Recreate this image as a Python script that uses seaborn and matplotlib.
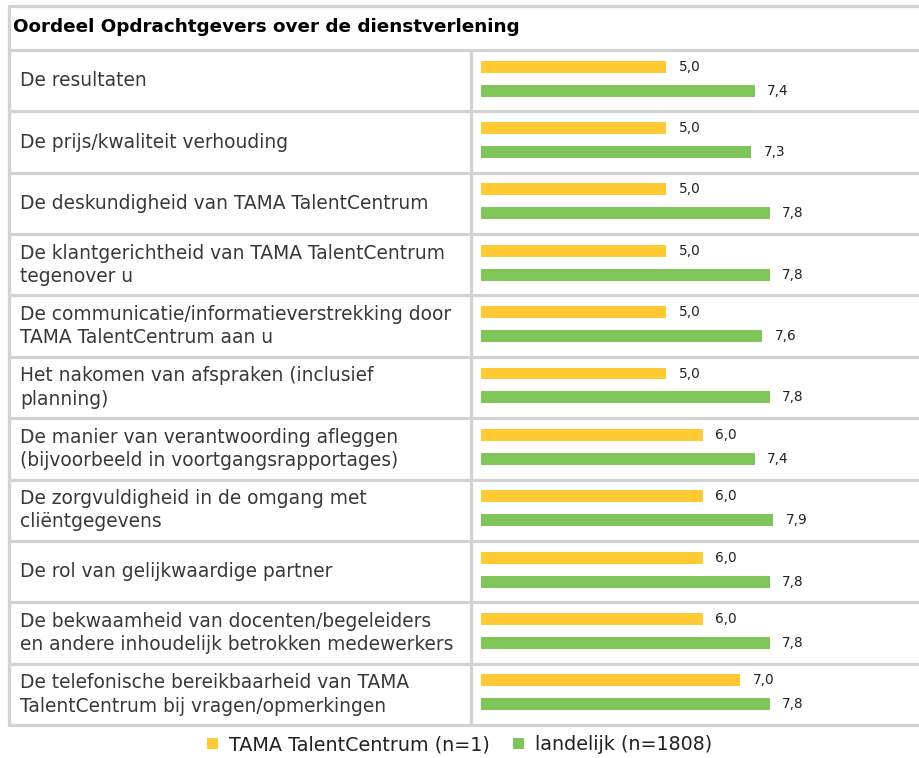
import numpy as np
import pandas as pd
import seaborn as sns
import matplotlib.pyplot as plt

items = [
    "De resultaten",
    "De prijs/kwaliteit verhouding",
    "De deskundigheid van TAMA TalentCentrum",
    "De klantgerichtheid van TAMA TalentCentrum\ntegenover u",
    "De communicatie/informatieverstrekking door\nTAMA TalentCentrum aan u",
    "Het nakomen van afspraken (inclusief\nplanning)",
    "De manier van verantwoording afleggen\n(bijvoorbeeld in voortgangsrapportages)",
    "De zorgvuldigheid in de omgang met\ncliëntgegevens",
    "De rol van gelijkwaardige partner",
    "De bekwaamheid van docenten/begeleiders\nen andere inhoudelijk betrokken medewerkers",
    "De telefonische bereikbaarheid van TAMA\nTalentCentrum bij vragen/opmerkingen",
]
tama = [5.0, 5.0, 5.0, 5.0, 5.0, 5.0, 6.0, 6.0, 6.0, 6.0, 7.0]
landelijk = [7.4, 7.3, 7.8, 7.8, 7.6, 7.8, 7.4, 7.9, 7.8, 7.8, 7.8]
series = ["TAMA TalentCentrum (n=1)", "landelijk (n=1808)"]
title = "Oordeel Opdrachtgevers over de dienstverlening"
colors = ["#FFC933", "#80C55A"]

df = pd.DataFrame({"item": items * 2,
                   "score": tama + landelijk,
                   "groep": [series[0]] * len(items) + [series[1]] * len(items)})

sns.set_theme(style="white")
plt.rcParams["font.family"] = ["DejaVu Sans"]

W, H = 920, 758
fig = plt.figure(figsize=(W / 100, H / 100), dpi=100)

# table frame in pixel coordinates
tab = fig.add_axes([0, 0, 1, 1], zorder=0)
tab.set_xlim(0, W)
tab.set_ylim(H, 0)
tab.axis("off")
tab.patch.set_alpha(0)

top, head, bottom, left, split = 6, 50, 725, 9, 471
gc, gw = "#D2D2D2", 2.3
row_h = (bottom - head) / len(items)
tab.plot([left, left], [top, bottom], color=gc, lw=gw, solid_capstyle="butt")
tab.plot([left, W], [top, top], color=gc, lw=gw)
tab.plot([split, split], [head, bottom], color=gc, lw=gw, solid_capstyle="butt")
for k in range(len(items) + 1):
    y = head + k * row_h
    tab.plot([left, W], [y, y], color=gc, lw=gw)

tab.text(13, 27, title, fontsize=13.2, fontweight="bold", color="black", va="center")
for i, lab in enumerate(items):
    tab.text(20, head + (i + 0.5) * row_h, lab, fontsize=13.4, color="#383838",
             va="center", ha="left", linespacing=1.3)

# bars
ax = fig.add_axes([split / W, (H - bottom) / H, (W - split) / W, (bottom - head) / H], zorder=1)
ax.patch.set_alpha(0)
sns.barplot(data=df, x="score", y="item", hue="groep", palette=colors,
            width=0.78, gap=0.5, orient="h", ax=ax, legend=True, saturation=1,
            linewidth=0)
d = 0.033
ax.set_ylim(len(items) - 0.5 + d, -0.5 + d)
px = 37.0
ax.set_xlim(-10 / px, (W - split - 10) / px)
ax.axis("off")
for cont in ax.containers:
    ax.bar_label(cont, labels=[f"{v:.1f}".replace(".", ",") for v in cont.datavalues],
                 padding=9, fontsize=9.8, color="#222222")

handles, labels = ax.get_legend_handles_labels()
ax.get_legend().remove()
fig.legend(handles, labels, loc="center", bbox_to_anchor=(0.5, 1 - 745 / H), ncol=2,
           frameon=False, fontsize=13.8, handlelength=0.55, handleheight=0.55,
           handletextpad=0.6, columnspacing=1.2, labelcolor="#222222")

fig.savefig("out.png", dpi=100)
